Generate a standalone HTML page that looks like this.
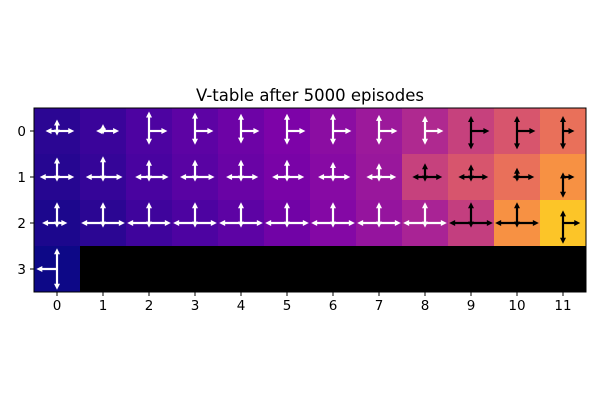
<!DOCTYPE html>
<html><head><meta charset="utf-8"><style>
body{margin:0;background:#fff}
svg{display:block;font-family:"DejaVu Sans","Liberation Sans",sans-serif}
</style></head><body>
<svg id="chart" width="600" height="400" xmlns="http://www.w3.org/2000/svg">
<rect width="600" height="400" fill="#fff"/>
<text x="310" y="101" text-anchor="middle" font-size="16.5">V-table after 5000 episodes</text>
<g id="cells"></g><g id="arrows"></g><g id="axes"></g>
</svg>
<script>
const cols=[0,1,2,3,4,5,6,7,8,9,10,11];
const rows=[0,1,2,3];
const values=[
[0.06,0.09,0.13,0.17,0.21,0.25,0.29,0.34,0.40,0.48,0.55,0.64],
[0.05,0.08,0.12,0.16,0.20,0.24,0.28,0.33,0.48,0.55,0.64,0.74],
[0.03,0.06,0.10,0.13,0.17,0.22,0.27,0.32,0.38,0.47,0.74,0.88],
[0.00,null,null,null,null,null,null,null,null,null,null,null]];
const qUp=[
[0.5,0.3,0.85,0.8,0.75,0.75,0.75,0.7,0.65,0.65,0.65,0.65],
[0.85,0.9,0.75,0.75,0.75,0.75,0.65,0.6,0.6,0.55,0.4,0.2],
[0.9,0.9,0.9,0.9,0.9,0.9,0.9,0.9,0.9,0.9,0.9,0.55],
[0.9,0,0,0,0,0,0,0,0,0,0,0]];
const qDown=[
[0.2,0.15,0.6,0.6,0.55,0.6,0.6,0.6,0.6,0.8,0.8,0.8],
[0.2,0.2,0.2,0.2,0.2,0.2,0.2,0.2,0.2,0.2,0.2,0.9],
[0.2,0.2,0.2,0.2,0.2,0.2,0.2,0.2,0.2,0.2,0.2,0.9],
[0.9,0,0,0,0,0,0,0,0,0,0,0]];
const qLeft=[
[0.5,0.3,0,0,0,0,0,0,0,0,0,0],
[0.75,0.75,0.6,0.65,0.65,0.65,0.65,0.55,0.55,0.55,0.2,0],
[0.65,0.95,0.95,0.95,0.95,0.95,0.95,0.95,0.95,0.95,0.95,0],
[0.9,0,0,0,0,0,0,0,0,0,0,0]];
const qRight=[
[0.75,0.7,0.8,0.8,0.8,0.8,0.8,0.8,0.8,0.8,0.8,0.5],
[0.75,0.85,0.85,0.85,0.75,0.75,0.75,0.75,0.75,0.75,0.75,0.5],
[0.45,0.95,0.95,0.95,0.95,0.95,0.95,0.95,0.95,0.95,0.95,0.75],
[0,0,0,0,0,0,0,0,0,0,0,0]];
const X0=34,Y0=108,CW=46,CH=46;
const xS=c=>X0+c*CW, yS=r=>Y0+r*CH;
const stops=[[13,8,135],[75,3,161],[125,3,168],[168,34,150],[204,71,120],[231,107,93],[248,148,65],[253,195,40],[240,249,33]];
function plasma(v){v=Math.max(0,Math.min(1,v))*8;const i=Math.min(7,Math.floor(v)),t=v-i;const a=stops[i],b=stops[i+1];
return `rgb(${a.map((x,k)=>Math.round(x+(b[k]-x)*t)).join(',')})`;}
const NS='http://www.w3.org/2000/svg';
function mk(t,at,p){const e=document.createElementNS(NS,t);for(const k in at)e.setAttribute(k,at[k]);p.appendChild(e);return e;}
const cg=document.getElementById('cells'),ag=document.getElementById('arrows'),xg=document.getElementById('axes');
rows.forEach(r=>cols.forEach(c=>{const v=values[r][c];
const e=mk('rect',{x:xS(c),y:yS(r),width:CW+0.5,height:CH+0.5,fill:v===null?'#000':plasma(v)},cg);


if(v===null)return;
const col=v>0.44?'#000':'#fff';const cx=xS(c)+CW/2,cy=yS(r)+CH/2,L=23;
[[0,-1,qUp[r][c]],[0,1,qDown[r][c]],[-1,0,qLeft[r][c]],[1,0,qRight[r][c]]].forEach(([dx,dy,q])=>{
if(q<=0)return;const ex=cx+dx*q*L,ey=cy+dy*q*L;
const ln=mk('line',{x1:cx,y1:cy,x2:ex-dx*3,y2:ey-dy*3,stroke:col,'stroke-width':2.2},ag);


const px=-dy,py=dx;
const hd=mk('polygon',{points:`${ex},${ey} ${ex-dx*6+px*3},${ey-dy*6+py*3} ${ex-dx*6-px*3},${ey-dy*6-py*3}`,fill:col},ag);


});
}));
const fr=mk('rect',{x:X0,y:Y0,width:CW*12,height:CH*4,fill:'none',stroke:'#000','stroke-width':1},xg);


cols.forEach(c=>{const x=xS(c)+CW/2;
const t=mk('line',{x1:x,y1:Y0+CH*4,x2:x,y2:Y0+CH*4+4,stroke:'#000'},xg);


const l=mk('text',{x:x,y:Y0+CH*4+18,'text-anchor':'middle','font-size':13.5},xg);l.textContent=c;

});
rows.forEach(r=>{const y=yS(r)+CH/2;
const t=mk('line',{x1:X0-4,y1:y,x2:X0,y2:y,stroke:'#000'},xg);


const l=mk('text',{x:X0-8,y:y+5,'text-anchor':'end','font-size':13.5},xg);l.textContent=r;

});
</script>
</body></html>
